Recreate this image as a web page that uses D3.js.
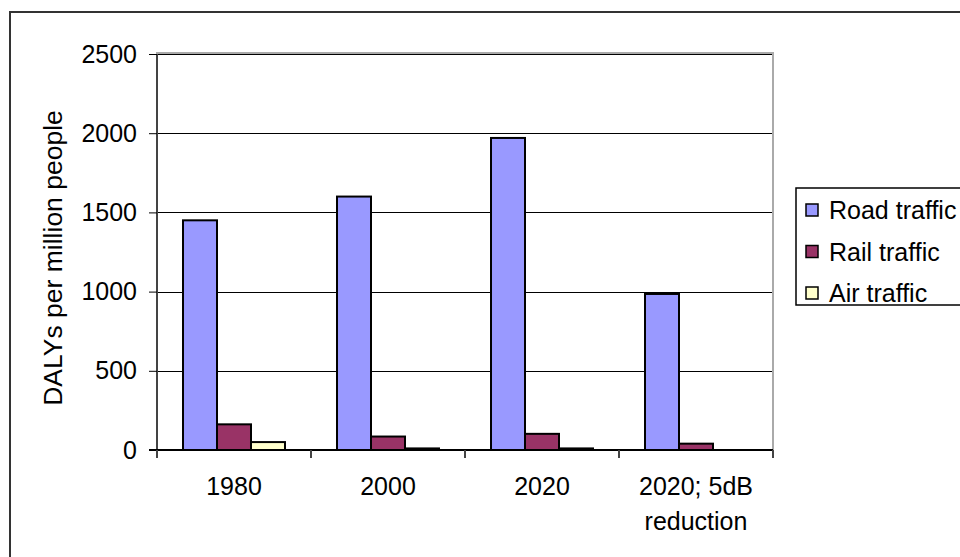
<!DOCTYPE html>
<html>
<head>
<meta charset="utf-8">
<script src="https://cdn.jsdelivr.net/npm/d3@7"></script>
<style>
  html, body { margin: 0; padding: 0; background: #fff; }
  svg { display: block; }
  text { font-family: "Liberation Sans", Arial, sans-serif; fill: #000; }
</style>
</head>
<body>
<script>
// Noise burden by transport mode (DALYs per million people)
const categories = ["1980", "2000", "2020", "2020; 5dB reduction"];
const seriesNames = ["Road traffic", "Rail traffic", "Air traffic"];
const roadTraffic = [1450, 1600, 1970, 985];
const railTraffic = [162, 85, 102, 40];
const airTraffic = [50, 10, 10, 0];
const yTicks = [0, 500, 1000, 1500, 2000, 2500];
const yTitle = "DALYs per million people";

const seriesValues = [roadTraffic, railTraffic, airTraffic];
const colors = ["#9999FF", "#993366", "#FFFFCC"];

const W = 960, H = 557;
const plot = { left: 157, right: 773, top: 54, bottom: 450 };

const svg = d3.select("body").append("svg")
  .attr("width", W).attr("height", H);

// chart frame
svg.append("rect")
  .attr("x", 10).attr("y", 12)
  .attr("width", W + 10).attr("height", H + 10)
  .attr("fill", "#fff").attr("stroke", "#333").attr("stroke-width", 2);

const y = d3.scaleLinear().domain([0, 2500]).range([plot.bottom, plot.top]);
const x = d3.scaleBand().domain(categories).range([plot.left, plot.right])
  .paddingInner(0).paddingOuter(0);
const xs = d3.scaleBand().domain(seriesNames).range([0, x.bandwidth()])
  .paddingInner(0).paddingOuter(0.765);

// plot area border
svg.append("rect")
  .attr("x", plot.left).attr("y", plot.top - 1)
  .attr("width", plot.right - plot.left).attr("height", plot.bottom - plot.top + 1)
  .attr("fill", "none").attr("stroke", "#aaa").attr("stroke-width", 2);

// horizontal gridlines
svg.append("g").selectAll("line")
  .data(yTicks.filter(d => d > 0))
  .join("line")
  .attr("x1", plot.left).attr("x2", plot.right - 1)
  .attr("y1", d => Math.round(y(d)) + 0.5).attr("y2", d => Math.round(y(d)) + 0.5)
  .attr("stroke", "#000").attr("stroke-width", 1);

// bars
const rows = categories.map((c, i) => ({
  cat: c,
  vals: seriesNames.map((s, j) => ({ s, j, v: seriesValues[j][i] }))
}));

const groups = svg.append("g").selectAll("g")
  .data(rows).join("g")
  .attr("transform", d => `translate(${x(d.cat)},0)`);

groups.selectAll("rect")
  .data(d => d.vals.filter(v => v.v > 0))
  .join("rect")
  .attr("x", d => xs(d.s))
  .attr("width", xs.bandwidth())
  .attr("y", d => y(d.v))
  .attr("height", d => y(0) - y(d.v))
  .attr("fill", d => colors[d.j])
  .attr("stroke", "#000").attr("stroke-width", 2);

// y axis
const yAxis = d3.axisLeft(y).tickValues(yTicks).tickSize(8).tickPadding(12)
  .tickFormat(d3.format("d"));
const gy = svg.append("g").attr("transform", `translate(${plot.left},0)`).call(yAxis);
gy.select(".domain").attr("stroke", "#444").attr("stroke-width", 2)
  .attr("d", `M0,${plot.top}V${plot.bottom + 8}`);
gy.selectAll(".tick line").attr("stroke", "#000");
gy.selectAll(".tick text")
  .style("font-family", "'Liberation Sans', Arial, sans-serif")
  .style("font-size", "25px").attr("fill", "#000");

// x axis
const xAxis = d3.axisBottom(x).tickSize(0).tickFormat("");
const gx = svg.append("g").attr("transform", `translate(0,${plot.bottom})`).call(xAxis);
gx.select(".domain").attr("stroke", "#000").attr("stroke-width", 2)
  .attr("d", `M${plot.left - 8},0H${plot.right}`);
gx.selectAll(".tick").remove();

// category tick marks at band boundaries
const bounds = categories.map(c => x(c)).concat([x.range()[1]]);
gx.selectAll(".bound")
  .data(bounds).join("line")
  .attr("class", "bound")
  .attr("x1", d => d).attr("x2", d => d)
  .attr("y1", 0).attr("y2", 8)
  .attr("stroke", "#444").attr("stroke-width", 2);

// category labels (wrapped)
const labelLines = { "2020; 5dB reduction": ["2020; 5dB", "reduction"] };
categories.forEach(c => {
  const lines = labelLines[c] || [c];
  const t = svg.append("text")
    .attr("x", x(c) + x.bandwidth() / 2)
    .attr("y", plot.bottom + 45)
    .attr("text-anchor", "middle")
    .style("font-size", "25px");
  lines.forEach((ln, i) => {
    t.append("tspan").attr("x", x(c) + x.bandwidth() / 2)
      .attr("dy", i === 0 ? 0 : 35).text(ln);
  });
});

// y axis title
svg.append("text")
  .attr("transform", `translate(62,258) rotate(-90)`)
  .attr("text-anchor", "middle")
  .style("font-size", "26.5px")
  .text(yTitle);

// legend
const legend = svg.append("g");
legend.append("rect")
  .attr("x", 796).attr("y", 188)
  .attr("width", 200).attr("height", 117)
  .attr("fill", "#fff").attr("stroke", "#000").attr("stroke-width", 1.5);

const legendY = d3.scalePoint().domain(seriesNames).range([210, 293]);
const items = legend.selectAll("g.item").data(seriesNames).join("g")
  .attr("class", "item")
  .attr("transform", d => `translate(0,${legendY(d)})`);
items.append("rect")
  .attr("x", 806).attr("y", -6).attr("width", 12).attr("height", 12)
  .attr("fill", (d, i) => colors[i]).attr("stroke", "#000").attr("stroke-width", 1.5);
items.append("text")
  .attr("x", 829).attr("y", 9)
  .style("font-size", "25px")
  .text(d => d);
</script>
</body>
</html>
